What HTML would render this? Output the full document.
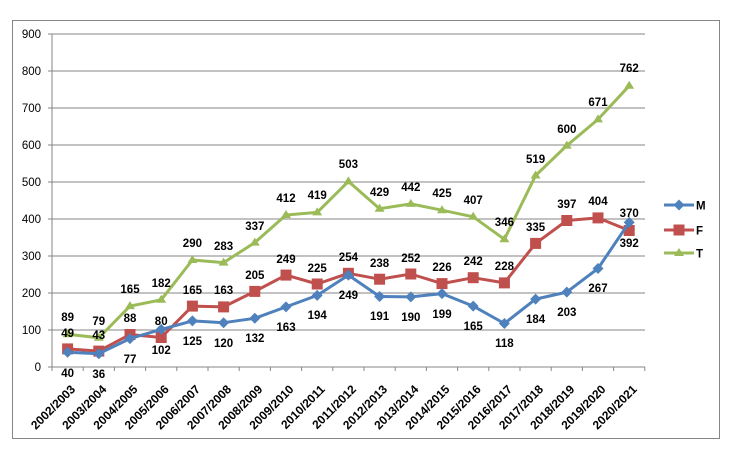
<!DOCTYPE html>
<html><head><meta charset="utf-8"><style>
body{margin:0;background:#fff}
svg{display:block}
text{font-family:"Liberation Sans","DejaVu Sans",sans-serif}
.a{font-size:11.5px;fill:#000}
.d{font-size:11.5px;font-weight:bold;fill:#000;text-anchor:middle}
.g{stroke:#868686;stroke-width:1}
</style></head><body>
<svg width="735" height="460" viewBox="0 0 735 460">
<rect x="12.5" y="20.5" width="707" height="418" fill="#fff" stroke="#868686"/>
<g class="g">
<line x1="52" y1="34" x2="645" y2="34"/><line x1="52" y1="71" x2="645" y2="71"/><line x1="52" y1="108" x2="645" y2="108"/><line x1="52" y1="145" x2="645" y2="145"/><line x1="52" y1="182" x2="645" y2="182"/><line x1="52" y1="219" x2="645" y2="219"/><line x1="52" y1="256" x2="645" y2="256"/><line x1="52" y1="293" x2="645" y2="293"/><line x1="52" y1="330" x2="645" y2="330"/>
<line x1="52" y1="34" x2="52" y2="367"/><line x1="48" y1="367" x2="645" y2="367"/>
<line x1="48" y1="34" x2="52" y2="34"/><line x1="48" y1="71" x2="52" y2="71"/><line x1="48" y1="108" x2="52" y2="108"/><line x1="48" y1="145" x2="52" y2="145"/><line x1="48" y1="182" x2="52" y2="182"/><line x1="48" y1="219" x2="52" y2="219"/><line x1="48" y1="256" x2="52" y2="256"/><line x1="48" y1="293" x2="52" y2="293"/><line x1="48" y1="330" x2="52" y2="330"/>
<line x1="52" y1="367" x2="52" y2="371"/><line x1="83.2" y1="367" x2="83.2" y2="371"/><line x1="114.4" y1="367" x2="114.4" y2="371"/><line x1="145.6" y1="367" x2="145.6" y2="371"/><line x1="176.8" y1="367" x2="176.8" y2="371"/><line x1="208" y1="367" x2="208" y2="371"/><line x1="239.2" y1="367" x2="239.2" y2="371"/><line x1="270.4" y1="367" x2="270.4" y2="371"/><line x1="301.6" y1="367" x2="301.6" y2="371"/><line x1="332.8" y1="367" x2="332.8" y2="371"/><line x1="364" y1="367" x2="364" y2="371"/><line x1="395.2" y1="367" x2="395.2" y2="371"/><line x1="426.4" y1="367" x2="426.4" y2="371"/><line x1="457.6" y1="367" x2="457.6" y2="371"/><line x1="488.8" y1="367" x2="488.8" y2="371"/><line x1="520" y1="367" x2="520" y2="371"/><line x1="551.2" y1="367" x2="551.2" y2="371"/><line x1="582.4" y1="367" x2="582.4" y2="371"/><line x1="613.6" y1="367" x2="613.6" y2="371"/><line x1="644.8" y1="367" x2="644.8" y2="371"/>
</g>
<g class="a" text-anchor="end">
<text x="41" y="38">900</text><text x="41" y="75">800</text><text x="41" y="112">700</text><text x="41" y="149">600</text><text x="41" y="186">500</text><text x="41" y="223">400</text><text x="41" y="260">300</text><text x="41" y="297">200</text><text x="41" y="334">100</text><text x="41" y="371">0</text>
</g>
<g class="a" text-anchor="end" font-weight="bold" style="font-size:12px">
<text transform="translate(76,390) rotate(-45)">2002/2003</text>
<text transform="translate(107.2,390) rotate(-45)">2003/2004</text>
<text transform="translate(138.4,390) rotate(-45)">2004/2005</text>
<text transform="translate(169.6,390) rotate(-45)">2005/2006</text>
<text transform="translate(200.8,390) rotate(-45)">2006/2007</text>
<text transform="translate(232,390) rotate(-45)">2007/2008</text>
<text transform="translate(263.2,390) rotate(-45)">2008/2009</text>
<text transform="translate(294.4,390) rotate(-45)">2009/2010</text>
<text transform="translate(325.6,390) rotate(-45)">2010/2011</text>
<text transform="translate(356.8,390) rotate(-45)">2011/2012</text>
<text transform="translate(388,390) rotate(-45)">2012/2013</text>
<text transform="translate(419.2,390) rotate(-45)">2013/2014</text>
<text transform="translate(450.4,390) rotate(-45)">2014/2015</text>
<text transform="translate(481.6,390) rotate(-45)">2015/2016</text>
<text transform="translate(512.8,390) rotate(-45)">2016/2017</text>
<text transform="translate(544,390) rotate(-45)">2017/2018</text>
<text transform="translate(575.2,390) rotate(-45)">2018/2019</text>
<text transform="translate(606.4,390) rotate(-45)">2019/2020</text>
<text transform="translate(637.6,390) rotate(-45)">2020/2021</text>
</g>
<!-- T -->
<polyline fill="none" stroke="#9BBB59" stroke-width="3" stroke-linejoin="round" points="67.6,334.2 98.8,337.8 130,306.1 161.2,299.8 192.4,260 223.6,262.6 254.8,242.6 286,215 317.2,212.4 348.4,181.4 379.6,208.7 410.8,203.9 442,210.2 473.2,216.8 504.4,239.3 535.6,175.5 566.8,145.6 598,119.4 629.2,85.8"/>
<g fill="#9BBB59">
<path d="M67.6,329.2l5,8h-10z"/><path d="M98.8,332.8l5,8h-10z"/><path d="M130,301.1l5,8h-10z"/><path d="M161.2,294.8l5,8h-10z"/><path d="M192.4,255l5,8h-10z"/><path d="M223.6,257.6l5,8h-10z"/><path d="M254.8,237.6l5,8h-10z"/><path d="M286,210l5,8h-10z"/><path d="M317.2,207.4l5,8h-10z"/><path d="M348.4,176.4l5,8h-10z"/><path d="M379.6,203.7l5,8h-10z"/><path d="M410.8,198.9l5,8h-10z"/><path d="M442,205.2l5,8h-10z"/><path d="M473.2,211.8l5,8h-10z"/><path d="M504.4,234.3l5,8h-10z"/><path d="M535.6,170.5l5,8h-10z"/><path d="M566.8,140.6l5,8h-10z"/><path d="M598,114.4l5,8h-10z"/><path d="M629.2,80.8l5,8h-10z"/>
</g>
<!-- F -->
<polyline fill="none" stroke="#C0504D" stroke-width="3" stroke-linejoin="round" points="67.6,348.9 98.8,351.1 130,334.5 161.2,337.5 192.4,306.1 223.6,306.9 254.8,291.4 286,275.1 317.2,284 348.4,273.3 379.6,279.2 410.8,274 442,283.6 473.2,277.7 504.4,282.9 535.6,243.4 566.8,220.5 598,217.9 629.2,230.5"/>
<g fill="#C0504D">
<rect x="62.1" y="343.4" width="11" height="11"/><rect x="93.3" y="345.6" width="11" height="11"/><rect x="124.5" y="329" width="11" height="11"/><rect x="155.7" y="332" width="11" height="11"/><rect x="186.9" y="300.6" width="11" height="11"/><rect x="218.1" y="301.4" width="11" height="11"/><rect x="249.3" y="285.9" width="11" height="11"/><rect x="280.5" y="269.6" width="11" height="11"/><rect x="311.7" y="278.5" width="11" height="11"/><rect x="342.9" y="267.8" width="11" height="11"/><rect x="374.1" y="273.7" width="11" height="11"/><rect x="405.3" y="268.5" width="11" height="11"/><rect x="436.5" y="278.1" width="11" height="11"/><rect x="467.7" y="272.2" width="11" height="11"/><rect x="498.9" y="277.4" width="11" height="11"/><rect x="530.1" y="237.9" width="11" height="11"/><rect x="561.3" y="215" width="11" height="11"/><rect x="592.5" y="212.4" width="11" height="11"/><rect x="623.7" y="225" width="11" height="11"/>
</g>
<!-- M -->
<polyline fill="none" stroke="#4F81BD" stroke-width="3" stroke-linejoin="round" points="67.6,352.2 98.8,353.7 130,338.6 161.2,329.4 192.4,320.9 223.6,322.7 254.8,318.3 286,306.9 317.2,295.4 348.4,275.1 379.6,296.5 410.8,296.9 442,293.6 473.2,306.1 504.4,323.5 535.6,299.1 566.8,292.1 598,268.5 629.2,222.4"/>
<g fill="#4F81BD">
<path d="M67.6,346.7l5.5,5.5l-5.5,5.5l-5.5,-5.5z"/><path d="M98.8,348.2l5.5,5.5l-5.5,5.5l-5.5,-5.5z"/><path d="M130,333.1l5.5,5.5l-5.5,5.5l-5.5,-5.5z"/><path d="M161.2,323.9l5.5,5.5l-5.5,5.5l-5.5,-5.5z"/><path d="M192.4,315.4l5.5,5.5l-5.5,5.5l-5.5,-5.5z"/><path d="M223.6,317.2l5.5,5.5l-5.5,5.5l-5.5,-5.5z"/><path d="M254.8,312.8l5.5,5.5l-5.5,5.5l-5.5,-5.5z"/><path d="M286,301.4l5.5,5.5l-5.5,5.5l-5.5,-5.5z"/><path d="M317.2,289.9l5.5,5.5l-5.5,5.5l-5.5,-5.5z"/><path d="M348.4,269.6l5.5,5.5l-5.5,5.5l-5.5,-5.5z"/><path d="M379.6,291l5.5,5.5l-5.5,5.5l-5.5,-5.5z"/><path d="M410.8,291.4l5.5,5.5l-5.5,5.5l-5.5,-5.5z"/><path d="M442,288.1l5.5,5.5l-5.5,5.5l-5.5,-5.5z"/><path d="M473.2,300.6l5.5,5.5l-5.5,5.5l-5.5,-5.5z"/><path d="M504.4,318l5.5,5.5l-5.5,5.5l-5.5,-5.5z"/><path d="M535.6,293.6l5.5,5.5l-5.5,5.5l-5.5,-5.5z"/><path d="M566.8,286.6l5.5,5.5l-5.5,5.5l-5.5,-5.5z"/><path d="M598,263l5.5,5.5l-5.5,5.5l-5.5,-5.5z"/><path d="M629.2,216.9l5.5,5.5l-5.5,5.5l-5.5,-5.5z"/>
</g>
<g class="d">
<text x="67.6" y="321">89</text><text x="98.8" y="325">79</text><text x="130" y="293">165</text><text x="161.2" y="287">182</text><text x="192.4" y="247">290</text><text x="223.6" y="250">283</text><text x="254.8" y="230">337</text><text x="286" y="202">412</text><text x="317.2" y="199">419</text><text x="348.4" y="168">503</text><text x="379.6" y="196">429</text><text x="410.8" y="191">442</text><text x="442" y="197">425</text><text x="473.2" y="204">407</text><text x="504.4" y="226">346</text><text x="535.6" y="163">519</text><text x="566.8" y="133">600</text><text x="598" y="106">671</text><text x="629.2" y="72">762</text>
</g>
<g class="d">
<text x="67.6" y="337">49</text><text x="98.8" y="339">43</text><text x="130" y="322">88</text><text x="161.2" y="325">80</text><text x="192.4" y="294">165</text><text x="223.6" y="294">163</text><text x="254.8" y="279">205</text><text x="286" y="263">249</text><text x="317.2" y="272">225</text><text x="348.4" y="261">254</text><text x="379.6" y="267">238</text><text x="410.8" y="262">252</text><text x="442" y="271">226</text><text x="473.2" y="265">242</text><text x="504.4" y="270">228</text><text x="535.6" y="231">335</text><text x="566.8" y="208">397</text><text x="598" y="205">404</text><text x="629.2" y="217">370</text>
</g>
<g class="d">
<text x="67.6" y="377">40</text><text x="98.8" y="378">36</text><text x="130" y="363">77</text><text x="161.2" y="354">102</text><text x="192.4" y="345">125</text><text x="223.6" y="347">120</text><text x="254.8" y="342">132</text><text x="286" y="331">163</text><text x="317.2" y="319">194</text><text x="348.4" y="299">249</text><text x="379.6" y="320">191</text><text x="410.8" y="321">190</text><text x="442" y="318">199</text><text x="473.2" y="330">165</text><text x="504.4" y="347">118</text><text x="535.6" y="323">184</text><text x="566.8" y="316">203</text><text x="598" y="292">267</text><text x="629.2" y="247">392</text>
</g>
<line x1="664" y1="205" x2="694" y2="205" stroke="#4F81BD" stroke-width="3"/><path d="M679,199.5l5.5,5.5l-5.5,5.5l-5.5,-5.5z" fill="#4F81BD"/>
<text x="696" y="209.5" class="a" font-weight="bold">M</text>
<line x1="664" y1="230" x2="694" y2="230" stroke="#C0504D" stroke-width="3"/><rect x="673.5" y="224.5" width="11" height="11" fill="#C0504D"/>
<text x="696" y="234.5" class="a" font-weight="bold">F</text>
<line x1="664" y1="253" x2="694" y2="253" stroke="#9BBB59" stroke-width="3"/><path d="M679,248l5,8h-10z" fill="#9BBB59"/>
<text x="696" y="257.5" class="a" font-weight="bold">T</text>
</svg>
</body></html>
